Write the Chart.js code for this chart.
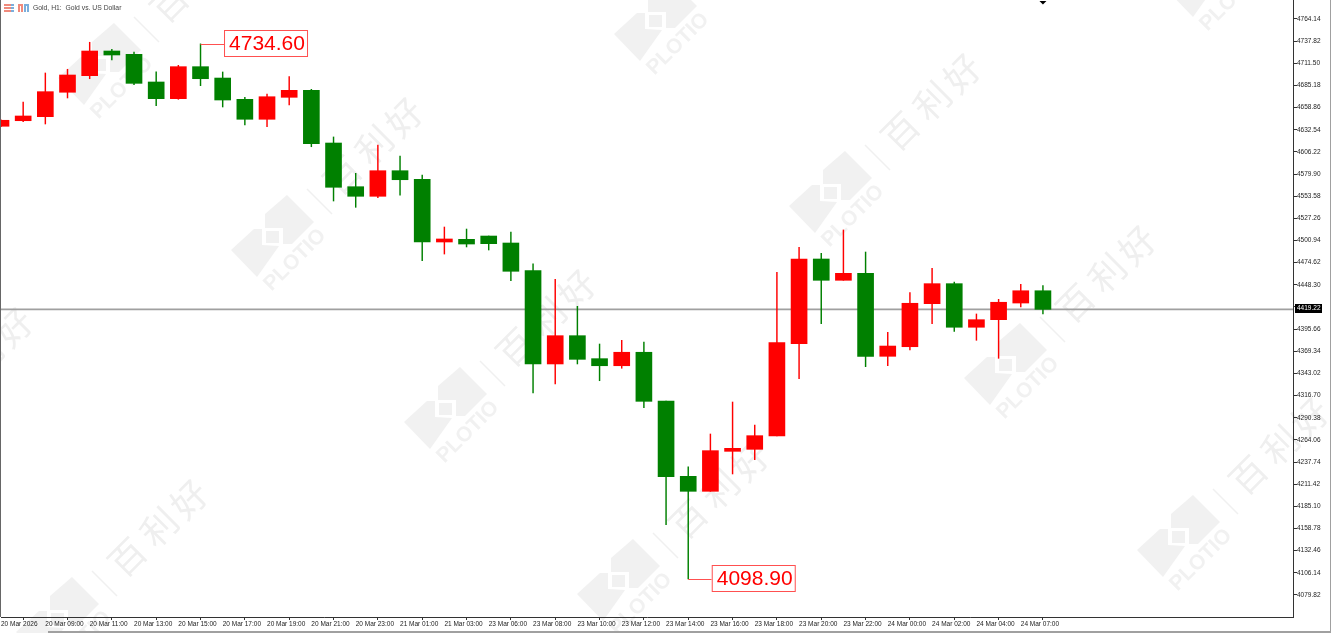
<!DOCTYPE html>
<html>
<head>
<meta charset="utf-8">
<title>Gold, H1</title>
<script src="https://cdn.jsdelivr.net/npm/chart.js@4"></script>
<style>
  html, body { margin: 0; padding: 0; background: #fff; overflow: hidden; }
  canvas { display: block; filter: blur(0.3px); }
</style>
</head>
<body>
<canvas id="myChart" width="1331" height="633"></canvas>
<script>
let categories = [
  "20 Mar 07:00", "20 Mar 08:00", "20 Mar 09:00", "20 Mar 10:00", "20 Mar 11:00", "20 Mar 12:00",
  "20 Mar 13:00", "20 Mar 14:00", "20 Mar 15:00", "20 Mar 16:00", "20 Mar 17:00", "20 Mar 18:00",
  "20 Mar 19:00", "20 Mar 20:00", "20 Mar 21:00", "20 Mar 22:00", "20 Mar 23:00", "21 Mar 00:00",
  "21 Mar 01:00", "21 Mar 02:00", "21 Mar 03:00", "21 Mar 04:00", "23 Mar 06:00", "23 Mar 07:00",
  "23 Mar 08:00", "23 Mar 09:00", "23 Mar 10:00", "23 Mar 11:00", "23 Mar 12:00", "23 Mar 13:00",
  "23 Mar 14:00", "23 Mar 15:00", "23 Mar 16:00", "23 Mar 17:00", "23 Mar 18:00", "23 Mar 19:00",
  "23 Mar 20:00", "23 Mar 21:00", "23 Mar 22:00", "23 Mar 23:00", "24 Mar 00:00", "24 Mar 01:00",
  "24 Mar 02:00", "24 Mar 03:00", "24 Mar 04:00", "24 Mar 05:00", "24 Mar 07:00", "24 Mar 08:00"
];
let open = [
  4636.7, 4643.3, 4648.1, 4677.1, 4696.8, 4726.1, 4722.2, 4689.3, 4669.5, 4707.5, 4694.0, 4668.7,
  4645.0, 4671.1, 4679.4, 4616.8, 4564.9, 4553.5, 4583.9, 4573.7, 4499.2, 4502.4, 4506.3, 4498.0,
  4465.1, 4354.3, 4387.9, 4360.6, 4352.2, 4368.2, 4310.3, 4220.8, 4203.0, 4250.5, 4252.9, 4268.7,
  4378.4, 4479.0, 4453.7, 4462.0, 4363.4, 4374.8, 4425.9, 4449.7, 4397.9, 4406.9, 4426.7, 4441.3
];
let high = [
  4644.2, 4665.5, 4700.0, 4704.4, 4736.5, 4728.1, 4724.9, 4701.5, 4709.1, 4734.6, 4701.2, 4671.1,
  4675.0, 4695.6, 4680.6, 4624.0, 4580.8, 4614.4, 4601.4, 4578.8, 4517.0, 4514.6, 4506.3, 4511.1,
  4473.4, 4454.9, 4422.8, 4378.0, 4382.4, 4380.4, 4310.3, 4232.2, 4271.1, 4309.1, 4281.8, 4463.2,
  4492.9, 4485.8, 4513.5, 4487.3, 4391.9, 4439.0, 4468.0, 4451.7, 4413.7, 4431.1, 4449.0, 4447.3
];
let low = [
  4636.3, 4642.1, 4639.4, 4670.3, 4693.2, 4715.4, 4686.1, 4661.1, 4668.7, 4684.9, 4659.6, 4638.2,
  4636.2, 4662.0, 4612.4, 4547.9, 4540.4, 4551.8, 4554.7, 4477.0, 4484.9, 4493.3, 4489.7, 4453.2,
  4319.8, 4330.5, 4354.3, 4334.4, 4349.2, 4302.3, 4163.3, 4098.9, 4203.0, 4223.6, 4240.6, 4268.7,
  4336.8, 4402.1, 4453.7, 4351.1, 4352.2, 4370.9, 4402.1, 4393.1, 4382.4, 4361.0, 4422.0, 4413.7
];
let close = [
  4643.8, 4648.9, 4677.8, 4697.6, 4726.1, 4721.4, 4687.7, 4669.5, 4707.5, 4693.2, 4667.9, 4645.0,
  4671.8, 4679.4, 4616.0, 4564.2, 4553.5, 4583.9, 4573.2, 4499.2, 4502.8, 4496.8, 4497.2, 4464.4,
  4354.3, 4387.9, 4359.8, 4352.2, 4368.2, 4309.9, 4220.4, 4203.0, 4251.3, 4254.1, 4269.1, 4379.6,
  4479.0, 4453.7, 4462.0, 4363.4, 4375.6, 4426.4, 4449.7, 4397.9, 4406.9, 4427.6, 4441.3, 4419.2
];
let timeTicks = [
  "20 Mar 2026", "20 Mar 09:00", "20 Mar 11:00", "20 Mar 13:00", "20 Mar 15:00", "20 Mar 17:00",
  "20 Mar 19:00", "20 Mar 21:00", "20 Mar 23:00", "21 Mar 01:00", "21 Mar 03:00", "23 Mar 06:00",
  "23 Mar 08:00", "23 Mar 10:00", "23 Mar 12:00", "23 Mar 14:00", "23 Mar 16:00", "23 Mar 18:00",
  "23 Mar 20:00", "23 Mar 22:00", "24 Mar 00:00", "24 Mar 02:00", "24 Mar 04:00", "24 Mar 07:00"
];
let priceTicks = [
  4764.14, 4737.82, 4711.50, 4685.18, 4658.86, 4632.54, 4606.22, 4579.90, 4553.58, 4527.26,
  4500.94, 4474.62, 4448.30, 4421.98, 4395.66, 4369.34, 4343.02, 4316.70, 4290.38, 4264.06,
  4237.74, 4211.42, 4185.10, 4158.78, 4132.46, 4106.14, 4079.82
];
let lastPrice = 4419.22;
let chartTitle = "Gold, H1:  Gold vs. US Dollar";
let peakIndex = 9;
let troughIndex = 31;

const UP = "#ff0000";
const DOWN = "#008000";
const FONT = '"Liberation Sans", Arial, sans-serif';

// watermark tile anchors, pattern repeats across the page
let logoSpots = [
  [99, 65], [272, 237], [445, 409], [618, 581], [57, 619], [655, 21],
  [830, 193], [1005, 365], [1178, 537], [1208, -23], [-118, 447]
];

function poly(ctx, pts) {
  ctx.beginPath();
  pts.forEach(([x, y], i) => i ? ctx.lineTo(x, y) : ctx.moveTo(x, y));
  ctx.closePath();
  ctx.fill();
}

function drawWatermark(ctx, cx, cy) {
  ctx.save();
  ctx.translate(cx, cy);
  ctx.fillStyle = "#f1f1f1";
  poly(ctx, [[-7, -23], [15, -42], [42, -15], [20, 7], [11, 7], [11, -9], [-7, -9]]);
  poly(ctx, [[-41, 13], [-18, -8], [-10, -8], [-10, 8], [7, 9], [-15, 40]]);
  ctx.fillRect(-6, -6, 13, 12);

  ctx.strokeStyle = "#f0f0f0";
  ctx.lineWidth = 1.5;
  ctx.beginPath();
  ctx.moveTo(35, -48);
  ctx.lineTo(60, -23);
  ctx.stroke();

  ctx.textAlign = "center";
  ctx.textBaseline = "middle";
  ctx.save();
  ctx.translate(23, 23);
  ctx.rotate(-Math.PI / 4);
  ctx.font = "bold 21px " + FONT;
  ctx.fillText("PLOTIO", 0, 0);
  ctx.restore();

  ctx.fillStyle = "#efefef";
  ctx.font = '36px "Noto Sans CJK SC"';
  [["百", 70, -62], ["利", 102, -92], ["好", 132, -120]].forEach(([ch, x, y]) => {
    ctx.save();
    ctx.translate(x, y);
    ctx.rotate(-Math.PI / 4);
    ctx.fillText(ch, 0, 0);
    ctx.restore();
  });
  ctx.restore();
}

function drawCallout(ctx, x, y, text, boxLeft) {
  let w = 83, h = 26;
  ctx.strokeStyle = "#ff5050";
  ctx.lineWidth = 1;
  ctx.beginPath();
  ctx.moveTo(x, Math.round(y) + 0.5);
  ctx.lineTo(boxLeft, Math.round(y) + 0.5);
  ctx.stroke();
  let top = Math.round(y) - 14;
  ctx.fillStyle = "#fff";
  ctx.fillRect(boxLeft, top, w, h);
  ctx.strokeRect(boxLeft + 0.5, top + 0.5, w, h);
  ctx.fillStyle = "#ff0000";
  ctx.font = "21px " + FONT;
  ctx.textAlign = "left";
  ctx.textBaseline = "middle";
  ctx.fillText(text, boxLeft + 5, top + 14);
}

const backdrop = {
  id: "backdrop",
  beforeDraw(chart) {
    let ctx = chart.ctx;
    ctx.save();
    ctx.fillStyle = "#fff";
    ctx.fillRect(0, 0, 1331, 633);
    logoSpots.forEach(([x, y]) => drawWatermark(ctx, x, y));
    ctx.restore();
  }
};

const overlay = {
  id: "overlay",
  afterDraw(chart) {
    let ctx = chart.ctx;
    let sx = chart.scales.x, sy = chart.scales.y;
    ctx.save();

    // window frame
    ctx.fillStyle = "#666";
    ctx.fillRect(0, 0, 1, 617);
    ctx.fillStyle = "#a0a0a0";
    ctx.fillRect(48, 631, 1283, 2);
    ctx.fillRect(1330, 0, 1, 633);

    // header: two small toolbar icons and the symbol name
    ctx.fillStyle = "#f08a7c";
    ctx.fillRect(4, 4, 7, 8);
    ctx.fillStyle = "#7aaedc";
    ctx.fillRect(11, 4, 3, 8);
    ctx.fillStyle = "#fff";
    ctx.fillRect(4, 6, 10, 1);
    ctx.fillRect(4, 9, 10, 1);
    ctx.fillStyle = "#f08a7c";
    ctx.fillRect(18, 4, 5, 8);
    ctx.fillStyle = "#7aaedc";
    ctx.fillRect(24, 4, 5, 8);
    ctx.fillStyle = "#fff";
    ctx.fillRect(20, 6, 1, 6);
    ctx.fillRect(26, 6, 1, 6);

    ctx.fillStyle = "#444";
    ctx.font = "6.8px " + FONT;
    ctx.textAlign = "left";
    ctx.textBaseline = "middle";
    ctx.fillText(chartTitle, 33, 8.5);

    // last bar marker on the top edge
    let lastX = sx.getPixelForValue(categories.length - 1);
    ctx.fillStyle = "#000";
    ctx.beginPath();
    ctx.moveTo(lastX - 3.5, 1);
    ctx.lineTo(lastX + 3.5, 1);
    ctx.lineTo(lastX, 4.5);
    ctx.closePath();
    ctx.fill();

    // current price tag on the axis
    let py = sy.getPixelForValue(lastPrice);
    ctx.fillStyle = "#000";
    ctx.fillRect(1295, Math.round(py) - 5, 27, 9);
    ctx.fillStyle = "#fff";
    ctx.font = "6.5px " + FONT;
    ctx.fillText(lastPrice.toFixed(2), 1297, Math.round(py) - 0.5);

    // high and low callouts
    let hx = sx.getPixelForValue(peakIndex);
    drawCallout(ctx, hx, sy.getPixelForValue(high[peakIndex]), high[peakIndex].toFixed(2), hx + 23.5);
    let lx = sx.getPixelForValue(troughIndex);
    drawCallout(ctx, lx, sy.getPixelForValue(low[troughIndex]), low[troughIndex].toFixed(2), lx + 23.5);
    ctx.restore();
  }
};

let barColors = close.map((c, i) => c >= open[i] ? UP : DOWN);

new Chart(document.getElementById("myChart"), {
  type: "bar",
  data: {
    datasets: [{
      label: "body",
      data: categories.map((_, i) => ({x: i, y: [open[i], close[i]]})),
      backgroundColor: barColors,
      barThickness: 16,
      grouped: false,
      order: 1
    }, {
      label: "wick",
      data: categories.map((_, i) => ({x: i, y: [low[i], high[i]]})),
      backgroundColor: barColors,
      barThickness: 0.8,
      grouped: false,
      order: 2
    }, {
      type: "line",
      label: "last",
      data: [{x: 0, y: lastPrice}, {x: 58.28, y: lastPrice}],
      borderColor: "#a0a0a0",
      borderWidth: 1.8,
      pointRadius: 0,
      order: 3
    }]
  },
  options: {
    responsive: false,
    animation: false,
    layout: {padding: {left: 1, right: 0, top: 0, bottom: 0}},
    plugins: {legend: {display: false}, tooltip: {enabled: false}},
    scales: {
      x: {
        type: "linear",
        offset: false,
        min: 0,
        max: 58.28,
        afterFit: s => { s.height = 16; s.paddingLeft = 0; s.paddingRight = 0; },
        afterBuildTicks: s => { s.ticks = timeTicks.map((_, i) => ({value: i * 2})); },
        grid: {drawOnChartArea: false, color: "#333", tickLength: 3},
        border: {color: "#333"},
        ticks: {
          callback: v => timeTicks[v / 2],
          font: {family: FONT, size: 6.5},
          color: "#222",
          align: "start",
          padding: 0,
          maxRotation: 0,
          autoSkip: false
        }
      },
      y: {
        type: "linear",
        position: "right",
        min: 4053.68,
        max: 4786.71,
        afterFit: s => { s.width = 38; s.paddingTop = 0; s.paddingBottom = 0; },
        afterBuildTicks: s => { s.ticks = priceTicks.map(v => ({value: v})); },
        grid: {drawOnChartArea: false, color: "#333", tickLength: 4},
        border: {color: "#333"},
        ticks: {
          callback: v => v.toFixed(2),
          font: {family: FONT, size: 6.5},
          color: "#222",
          padding: 0,
          autoSkip: false
        }
      }
    }
  },
  plugins: [backdrop, overlay]
});
</script>
</body>
</html>
